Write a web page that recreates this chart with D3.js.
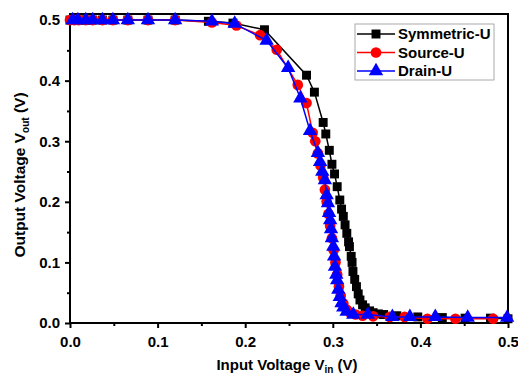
<!DOCTYPE html>
<html>
<head>
    <meta charset="utf-8">
    <title>Inverter transfer curves</title>
    <script src="https://d3js.org/d3.v7.min.js"></script>
    <style>
        body { margin: 0; background: #fff; }
        text { font-family: Arial, "Liberation Sans", sans-serif; font-weight: bold; }
    </style>
</head>
<body>
    <div id="chart"></div>

    <script>
        // Symmetric-U (black squares)
        var symX = [0.000, 0.005, 0.010, 0.018, 0.026, 0.037, 0.049, 0.066, 0.089, 0.120, 0.158, 0.186,
                    0.222, 0.270, 0.279, 0.289, 0.292, 0.296, 0.299, 0.302, 0.305, 0.308, 0.310, 0.312,
                    0.314, 0.316, 0.318, 0.319, 0.321, 0.322, 0.323, 0.325, 0.327, 0.329, 0.331, 0.334,
                    0.337, 0.342, 0.346, 0.352, 0.358, 0.373, 0.397, 0.425, 0.451, 0.480, 0.500];
        var symY = [0.500, 0.500, 0.500, 0.500, 0.500, 0.500, 0.500, 0.500, 0.500, 0.500, 0.498, 0.495,
                    0.484, 0.409, 0.381, 0.331, 0.312, 0.285, 0.262, 0.246, 0.225, 0.203, 0.188, 0.176,
                    0.162, 0.148, 0.134, 0.126, 0.110, 0.100, 0.085, 0.072, 0.060, 0.048, 0.038, 0.030,
                    0.025, 0.020, 0.017, 0.015, 0.014, 0.012, 0.010, 0.009, 0.008, 0.008, 0.007];

        // Source-U (red circles)
        var srcX = [0.000, 0.005, 0.010, 0.018, 0.026, 0.037, 0.049, 0.066, 0.089, 0.120, 0.162, 0.190,
                    0.217, 0.236, 0.260, 0.270, 0.277, 0.280, 0.283, 0.286, 0.289, 0.291, 0.293, 0.295,
                    0.297, 0.299, 0.301, 0.303, 0.305, 0.307, 0.309, 0.312, 0.316, 0.320, 0.326, 0.334,
                    0.346, 0.365, 0.382, 0.408, 0.440, 0.483];
        var srcY = [0.500, 0.500, 0.500, 0.500, 0.500, 0.500, 0.500, 0.500, 0.500, 0.500, 0.496, 0.491,
                    0.475, 0.451, 0.393, 0.363, 0.314, 0.300, 0.280, 0.260, 0.240, 0.220, 0.200, 0.180,
                    0.160, 0.140, 0.120, 0.100, 0.080, 0.060, 0.045, 0.032, 0.022, 0.017, 0.014, 0.012,
                    0.011, 0.010, 0.010, 0.007, 0.007, 0.007];

        // Drain-U (blue triangles)
        var drnX = [0.003, 0.009, 0.018, 0.026, 0.037, 0.049, 0.066, 0.089, 0.120, 0.162, 0.188, 0.2245,
                    0.249, 0.263, 0.274, 0.283, 0.2855, 0.288, 0.291, 0.293, 0.2945, 0.2957, 0.297, 0.298,
                    0.299, 0.3006, 0.3015, 0.3025, 0.304, 0.305, 0.3063, 0.308, 0.310, 0.312, 0.3158,
                    0.3234, 0.340, 0.368, 0.388, 0.417, 0.454, 0.499];
        var drnY = [0.500, 0.500, 0.500, 0.500, 0.500, 0.500, 0.500, 0.500, 0.500, 0.498, 0.494, 0.466,
                    0.421, 0.371, 0.317, 0.281, 0.266, 0.250, 0.236, 0.211, 0.198, 0.182, 0.170, 0.155,
                    0.140, 0.126, 0.110, 0.093, 0.080, 0.071, 0.055, 0.043, 0.033, 0.026, 0.019,
                    0.014, 0.014, 0.010, 0.010, 0.010, 0.009, 0.009];

        var seriesNames = ["Symmetric-U", "Source-U", "Drain-U"];
        var seriesColors = ["#000000", "#ff0000", "#0000ff"];
        var seriesShapes = [d3.symbolSquare, d3.symbolCircle, d3.symbolTriangle];
        var seriesSizes = [80, 90, 90];

        var xTicks = [0.0, 0.1, 0.2, 0.3, 0.4, 0.5];
        var xMinor = [0.05, 0.15, 0.25, 0.35, 0.45];
        var yTicks = [0.0, 0.1, 0.2, 0.3, 0.4, 0.5];
        var yMinor = [0.05, 0.15, 0.25, 0.35, 0.45];

        var width = 518, height = 376;
        var plotL = 70, plotR = 508, plotT = 14, plotB = 323;

        var svg = d3.select("#chart").append("svg")
            .attr("width", width)
            .attr("height", height);

        var x = d3.scaleLinear().domain([0, 0.5]).range([plotL, plotR]);
        var y = d3.scaleLinear().domain([0, 0.51]).range([plotB, plotT]);

        // frame
        svg.append("rect")
            .attr("x", plotL).attr("y", plotT)
            .attr("width", plotR - plotL).attr("height", plotB - plotT)
            .attr("fill", "none").attr("stroke", "#000").attr("stroke-width", 2);

        // axes
        var fmt = d3.format(".1f");
        svg.append("g").attr("transform", "translate(0," + plotB + ")")
            .call(d3.axisBottom(x).tickValues(xTicks).tickFormat(fmt).tickSize(5).tickSizeOuter(0).tickPadding(8));
        svg.append("g").attr("transform", "translate(0," + plotB + ")")
            .call(d3.axisBottom(x).tickValues(xMinor).tickFormat("").tickSize(3).tickSizeOuter(0));
        svg.append("g").attr("transform", "translate(" + plotL + ",0)")
            .call(d3.axisLeft(y).tickValues(yTicks).tickFormat(fmt).tickSize(5).tickSizeOuter(0).tickPadding(5));
        svg.append("g").attr("transform", "translate(" + plotL + ",0)")
            .call(d3.axisLeft(y).tickValues(yMinor).tickFormat("").tickSize(3).tickSizeOuter(0));

        svg.selectAll(".domain").remove();
        svg.selectAll(".tick line").attr("stroke", "#000").attr("stroke-width", 2);
        svg.selectAll(".tick text")
            .attr("fill", "#000")
            .style("font-size", "15px")
            .style("font-weight", "bold")
            .style("font-family", "Arial, 'Liberation Sans', sans-serif");

        // data series
        var allData = [
            d3.zip(symX, symY),
            d3.zip(srcX, srcY),
            d3.zip(drnX, drnY)
        ];

        var line = d3.line()
            .x(function(d) { return x(d[0]); })
            .y(function(d) { return y(d[1]); });

        allData.forEach(function(pts, i) {
            var g = svg.append("g");
            g.append("path")
                .datum(pts)
                .attr("d", line)
                .attr("fill", "none")
                .attr("stroke", seriesColors[i])
                .attr("stroke-width", 1.5);
            g.selectAll("path.pt")
                .data(pts)
                .enter()
                .append("path")
                .attr("class", "pt")
                .attr("transform", function(d) { return "translate(" + x(d[0]) + "," + y(d[1]) + ")"; })
                .attr("d", d3.symbol().type(seriesShapes[i]).size(seriesSizes[i]))
                .attr("fill", seriesColors[i]);
        });

        // legend
        var legend = svg.append("g");
        legend.append("rect")
            .attr("x", 355).attr("y", 24)
            .attr("width", 139).attr("height", 56)
            .attr("fill", "#fff").attr("stroke", "#aaa").attr("stroke-width", 1);
        seriesNames.forEach(function(name, i) {
            var ly = 34 + i * 18.5;
            legend.append("line")
                .attr("x1", 357).attr("x2", 395)
                .attr("y1", ly).attr("y2", ly)
                .attr("stroke", seriesColors[i]).attr("stroke-width", 1.5);
            legend.append("path")
                .attr("transform", "translate(376," + ly + ")")
                .attr("d", d3.symbol().type(seriesShapes[i]).size(seriesSizes[i]))
                .attr("fill", seriesColors[i]);
            legend.append("text")
                .attr("x", 398).attr("y", ly + 5)
                .style("font-size", "15px")
                .text(name);
        });

        // axis titles
        var xt = svg.append("text")
            .attr("x", 287).attr("y", 370)
            .attr("text-anchor", "middle")
            .style("font-size", "15px");
        xt.append("tspan").text("Input Voltage V");
        xt.append("tspan").attr("dy", 3).style("font-size", "10px").text("in");
        xt.append("tspan").attr("dy", -3).text(" (V)");

        var yt = svg.append("text")
            .attr("transform", "translate(25,175) rotate(-90)")
            .attr("text-anchor", "middle")
            .style("font-size", "15.5px");
        yt.append("tspan").text("Output Voltage V");
        yt.append("tspan").attr("dy", 4).style("font-size", "10px").text("out");
        yt.append("tspan").attr("dy", -4).text(" (V)");
    </script>
</body>
</html>
